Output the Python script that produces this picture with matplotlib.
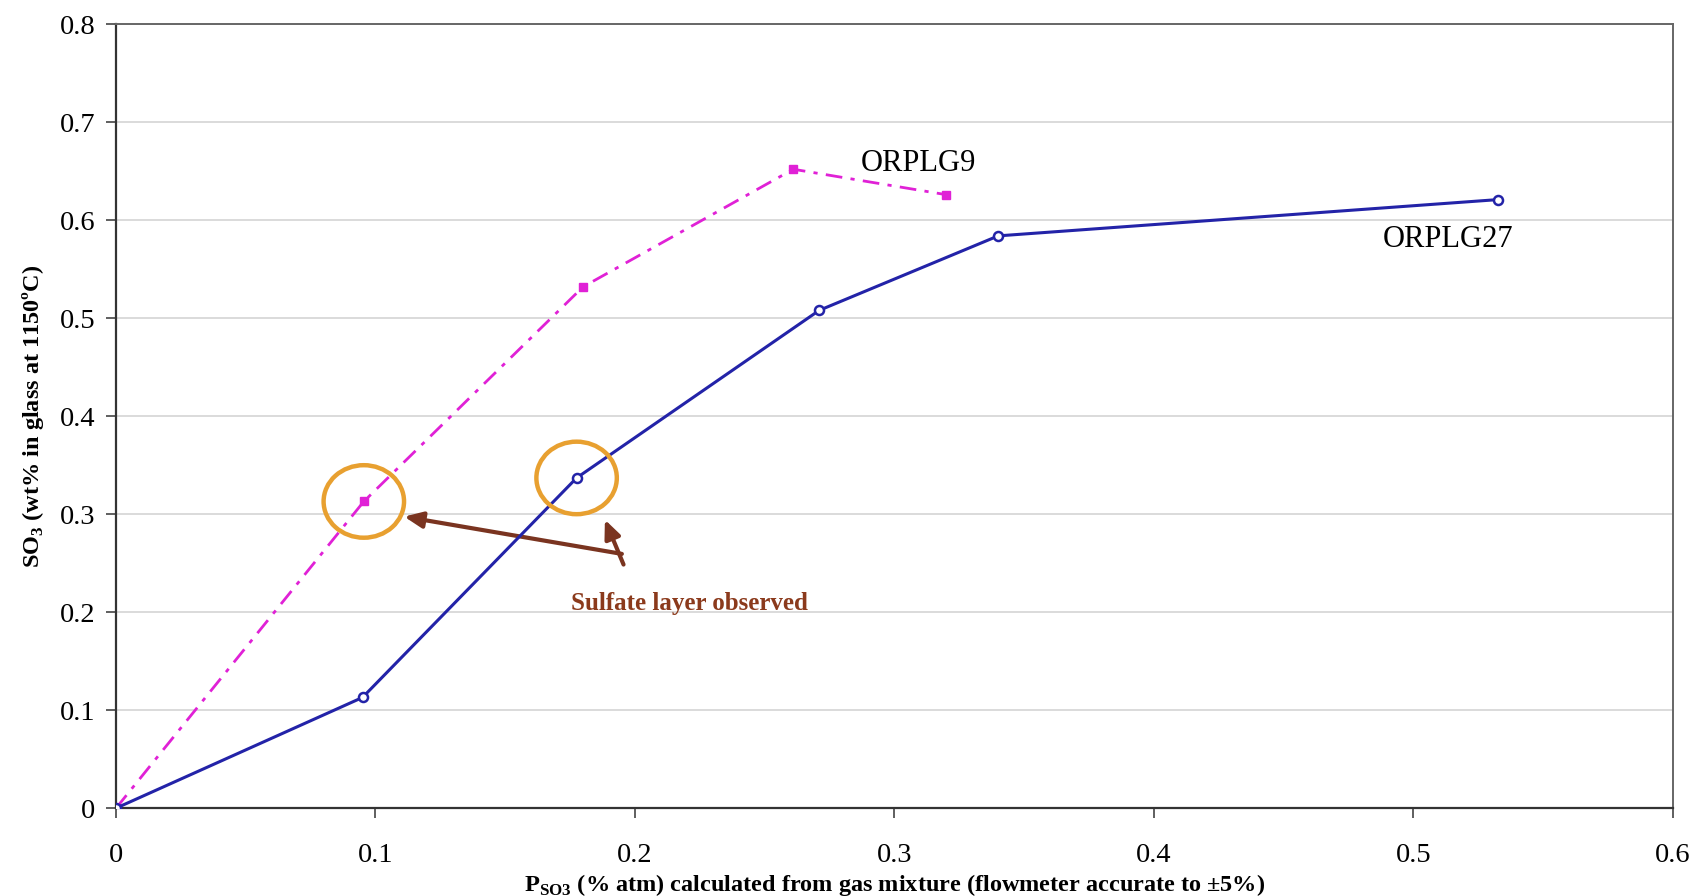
import matplotlib
matplotlib.use("Agg")
import matplotlib.pyplot as plt
from matplotlib.patches import Ellipse

plt.rcParams['font.family'] = ['Liberation Serif', 'DejaVu Serif']
plt.rcParams['mathtext.fontset'] = 'custom'
plt.rcParams['mathtext.rm'] = 'Liberation Serif'
plt.rcParams['mathtext.bf'] = 'Liberation Serif:bold'

# SO3 partial pressure (% atm) vs SO3 retained in glass (wt%)
p_orplg27 = [0.0, 0.095, 0.1775, 0.271, 0.340, 0.5325]
so3_orplg27 = [0.0, 0.113, 0.337, 0.508, 0.584, 0.621]

p_orplg9 = [0.0, 0.0955, 0.180, 0.261, 0.320]
so3_orplg9 = [0.0, 0.313, 0.532, 0.652, 0.626]

# points where a sulfate layer formed
layer_pts = [(p_orplg9[1], so3_orplg9[1]), (p_orplg27[2], so3_orplg27[2])]

x_ticks = [0, 0.1, 0.2, 0.3, 0.4, 0.5, 0.6]
y_ticks = [0, 0.1, 0.2, 0.3, 0.4, 0.5, 0.6, 0.7, 0.8]

fig = plt.figure(figsize=(16.96, 8.96), dpi=100)
ax = fig.add_axes([0.0684, 0.098, 0.918, 0.875])

ax.plot(p_orplg27, so3_orplg27, color='#2323a8', lw=2.2, marker='o',
        ms=6.5, mfc='white', mec='#2323a8', mew=1.8, zorder=4)
ax.plot(p_orplg9, so3_orplg9, color='#e021d6', lw=2.0, ls=(0, (6, 3, 1.5, 3)),
        marker='s', ms=6, mfc='#e021d6', mec='#e021d6', zorder=3)

ax.text(0.287, 0.658, 'ORPLG9', fontsize=22, va='center', ha='left')
ax.text(0.488, 0.580, 'ORPLG27', fontsize=22, va='center', ha='left')

for cx, cy in layer_pts:
    ax.add_patch(Ellipse((cx, cy), 0.031, 0.074, fill=False,
                         ec='#e8a030', lw=3.2, zorder=5))

arrow_kw = dict(arrowstyle='-|>,head_length=0.5,head_width=0.22',
                color='#7a3420', lw=3.0, mutation_scale=22)
ax.annotate('', xy=(0.110, 0.298), xytext=(0.196, 0.259), arrowprops=arrow_kw)
ax.annotate('', xy=(0.188, 0.297), xytext=(0.196, 0.246), arrowprops=arrow_kw)
ax.text(0.2208, 0.2086, 'Sulfate layer observed', color='#8b3a1c',
        fontsize=18, fontweight='bold', ha='center', va='center')

ax.set_xlim(0, 0.6)
ax.set_ylim(0, 0.8)
ax.set_xticks(x_ticks)
ax.set_yticks(y_ticks)
ax.set_xticklabels([f'{t:g}' for t in x_ticks])
ax.set_yticklabels([f'{t:g}' for t in y_ticks])
ax.tick_params(labelsize=20.5, direction='out', length=7, width=1.2,
               color='#444444')
ax.tick_params(axis='x', pad=18)
ax.tick_params(axis='y', pad=8)

ax.grid(axis='y', color='#d4d4d4', lw=1.2)
ax.set_axisbelow(True)
for side in ['left', 'bottom']:
    ax.spines[side].set_color('#333333')
    ax.spines[side].set_linewidth(1.6)
for side in ['top', 'right']:
    ax.spines[side].set_color('#666666')
    ax.spines[side].set_linewidth(1.4)

ax.set_xlabel(r'P$_{\mathbf{SO3}}$ (% atm) calculated from gas mixture (flowmeter accurate to ±5%)',
              fontsize=17.5, fontweight='bold', labelpad=3)
ax.set_ylabel(r'SO$_\mathbf{3}$ (wt% in glass at 1150ºC)',
              fontsize=17.5, fontweight='bold', labelpad=10)

fig.savefig('out.png', dpi=100, facecolor='white')
